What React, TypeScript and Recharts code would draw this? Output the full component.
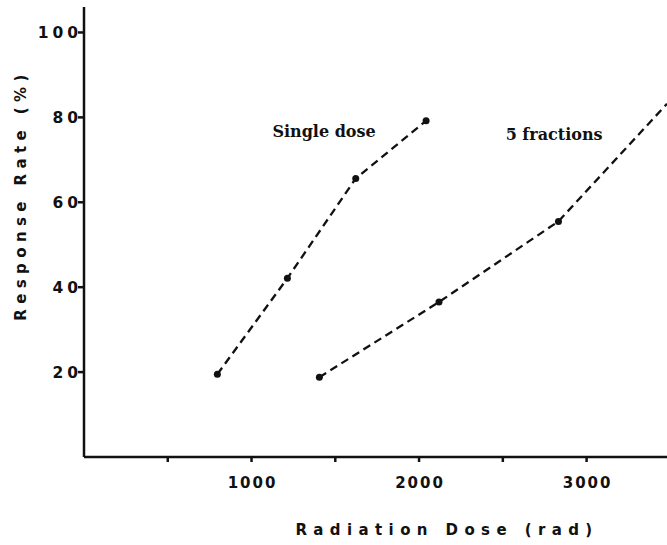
import React from 'react';
import { LineChart, Line, XAxis, YAxis, ReferenceDot } from 'recharts';

// single dose series
const singleDose = [796, 1214, 1622, 2042];
const singleRate = [19.5, 42.1, 65.6, 79.2];
// 5 fractions series (last point is where the line leaves the frame, no marker)
const fracDose = [1405, 2119, 2832, 3480];
const fracRate = [18.8, 36.5, 55.5, 83.2];
const fracMarked = [true, true, true, false];

const xTicks = [500, 1000, 1500, 2000, 2500, 3000];
const xLabelled = [1000, 2000, 3000];
const yTicks = [20, 40, 60, 80, 100];

const singleData = singleDose.map((d, i) => ({ dose: d, rate: singleRate[i] }));
const fracData = fracDose.map((d, i) => ({ dose: d, rate: fracRate[i], marked: fracMarked[i] }));

const SANS = '"DejaVu Sans", sans-serif';
const SERIF = '"DejaVu Serif", serif';

function XTick(props: any) {
  const { x, y, payload } = props;
  if (!xLabelled.includes(payload.value)) return <g />;
  return (
    <text x={x + 1} y={y} dy="0.71em" textAnchor="middle" fontFamily={SANS} fontWeight="bold"
      fontSize={15} letterSpacing={2} fill="#111">
      {payload.value}
    </text>
  );
}

function YTick(props: any) {
  const { x, y, payload } = props;
  return (
    <text x={x + 4} y={y} dy="0.355em" textAnchor="end" fontFamily={SANS} fontWeight="bold"
      fontSize={15.5} letterSpacing={4} fill="#111">
      {payload.value}
    </text>
  );
}

function FracDot(props: any) {
  const { cx, cy, payload, index } = props;
  if (!payload.marked) return <g key={index} />;
  return <circle key={index} cx={cx} cy={cy} r={3.5} fill="#111" />;
}

export default function App() {
  return (
    <div style={{ position: 'absolute', left: 0, top: 0, background: '#fff' }}>
      <LineChart width={667} height={545} margin={{ top: 7, right: 0, left: 0, bottom: 28 }}>
        <XAxis
          type="number"
          dataKey="dose"
          domain={[0, 3480]}
          ticks={xTicks}
          allowDataOverflow
          stroke="#111"
          strokeWidth={2.5}
          tickSize={5}
          tickMargin={15}
          tick={XTick}
          height={60}
          label={{
            content: () => (
              <text x={447} y={530} dy="0.355em" textAnchor="middle" fontFamily={SANS} fontWeight="bold"
                fontSize={15} letterSpacing={6.4} fill="#111">
                Radiation Dose (rad)
              </text>
            ),
          }}
        />
        <YAxis
          type="number"
          dataKey="rate"
          domain={[0, 106]}
          ticks={yTicks}
          allowDataOverflow
          stroke="#111"
          strokeWidth={2.5}
          tickSize={6}
          tickMargin={0}
          tick={YTick}
          width={84}
          label={{
            content: () => (
              <text x={21} y={195} dy="0.355em" textAnchor="middle" fontFamily={SANS} fontWeight="bold"
                fontSize={15} letterSpacing={5.4} fill="#111" transform="rotate(-90 21 195)">
                Response Rate (%)
              </text>
            ),
          }}
        />
        <Line
          data={singleData}
          dataKey="rate"
          type="linear"
          stroke="#111"
          strokeWidth={2.3}
          strokeDasharray="8 5"
          dot={{ r: 3.5, fill: '#111', stroke: 'none' }}
          isAnimationActive={false}
        />
        <Line
          data={fracData}
          dataKey="rate"
          type="linear"
          stroke="#111"
          strokeWidth={2.3}
          strokeDasharray="8 5"
          dot={FracDot}
          isAnimationActive={false}
        />
        <ReferenceDot x={1433} y={76.6} r={0} fill="none" stroke="none"
          label={{ value: 'Single dose', position: 'center', fontFamily: SERIF, fontWeight: 'bold', fontSize: 16, fill: '#111' }} />
        <ReferenceDot x={2806} y={76.1} r={0} fill="none" stroke="none"
          label={{ value: '5 fractions', position: 'center', fontFamily: SERIF, fontWeight: 'bold', fontSize: 16, fill: '#111' }} />
      </LineChart>
    </div>
  );
}
